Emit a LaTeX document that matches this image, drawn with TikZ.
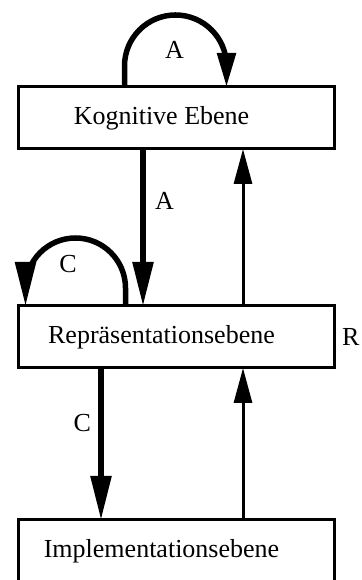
\documentclass[tikz,border=0pt]{standalone}
\usepackage{fontspec}
\setmainfont{Liberation Serif}
\usepackage{tikz}
\usetikzlibrary{positioning, arrows.meta}
\tikzset{
		ebene/.style={
			rectangle,
			draw=black,
			line width=3pt,
			minimum width=316pt,
			minimum height=62pt,
			outer sep=0pt,
			execute at end node={\hspace*{30pt}}
		},
		fluss/.style={
			line width=5.5pt,
			-{Triangle[length=44pt,width=20pt]}
		},
		rueck/.style={
			line width=3pt,
			-{Triangle[length=35pt,width=18pt]}
		},
		schleife/.style={
			line width=5.5pt,
			-{Triangle[length=34pt,width=18pt]}
		}
	}
\begin{document}
\begin{tikzpicture}[font=\fontsize{26}{30}\selectfont]
		\useasboundingbox (0pt,0pt) rectangle (361pt,580pt);
		\node (kog) [ebene] at (176.5pt,462pt) {Kognitive Ebene};
		\node (rep) [ebene, below=157pt of kog] {Repräsentationsebene};
		\node (impl) [ebene, below=152pt of rep] {Implementationsebene};
		\node (r) [right=4pt of rep] {R};
		%arrows:
		\draw[schleife] ([xshift=-52pt]kog.north) -- ++(0pt,21pt)
			arc[start angle=180, end angle=0, radius=51pt] -- ([xshift=50pt]kog.north);
		\node (la) at ([xshift=-2pt,yshift=37pt]kog.north) {A};
		\draw[fluss] ([xshift=-33.5pt]kog.south) -- node[pos=0.33, right=6pt] (lb) {A} ([xshift=-33.5pt]rep.north);
		\draw[rueck] ([xshift=66.5pt]rep.north) -- ([xshift=66.5pt]kog.south);
		\draw[fluss] ([xshift=-51pt]rep.north) -- ++(0pt,18pt)
			arc[start angle=0, end angle=180, radius=50pt] -- ([xshift=-151pt]rep.north);
		\node (lc) at ([xshift=-108.5pt,yshift=42pt]rep.north) {C};
		\draw[fluss] ([xshift=-75.5pt]rep.south) -- node[pos=0.36, left=4pt] (ld) {C} ([xshift=-75.5pt]impl.north);
		\draw[rueck] ([xshift=66.5pt]impl.north) -- ([xshift=66.5pt]rep.south);
	\end{tikzpicture}
\end{document}
